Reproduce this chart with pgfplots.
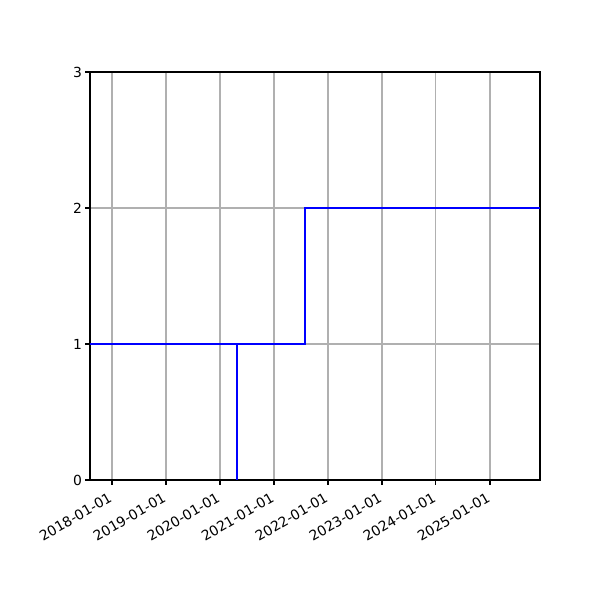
\documentclass[border=0pt]{standalone}
\usepackage{fontspec}
\setmainfont{DejaVu Sans}
\usepackage{pgfplots}
\pgfplotsset{compat=1.18}

% x is days since 2018-01-01
\begin{document}
\begin{tikzpicture}[font=\fontsize{10bp}{12bp}\selectfont]
  \begin{axis}[
      scale only axis,
      width=324bp, height=293.76bp,
      xmin=-149, xmax=2895,
      ymin=0, ymax=3,
      xtick={0,365,730,1096,1461,1826,2191,2557},
      xticklabels={2018-01-01,2019-01-01,2020-01-01,2021-01-01,2022-01-01,2023-01-01,2024-01-01,2025-01-01},
      ytick={0,1,2,3},
      grid=major,
      grid style={color=black!31, line width=0.8bp},
      axis line style={line width=0.8bp},
      tick style={black, line width=0.8bp},
      major tick length=3.5bp,
      tick align=outside,
      tick pos=left,
      /pgf/number format/assume math mode=true,
      xticklabel style={xshift=-3bp, yshift=-5bp, rotate=30, anchor=north east, inner sep=0pt},
      yticklabel style={xshift=-2bp, anchor=east, inner sep=0pt},
    ]
    \addplot[blue, line width=1.5bp] coordinates {
      (-149,1) (848,1) (848,0) (848,1) (1307,1) (1307,2) (2895,2)
    };
  \end{axis}
  \pgfresetboundingbox
  \useasboundingbox (-64.8bp,-86.4bp) rectangle (367.2bp,345.6bp);
\end{tikzpicture}
\end{document}
